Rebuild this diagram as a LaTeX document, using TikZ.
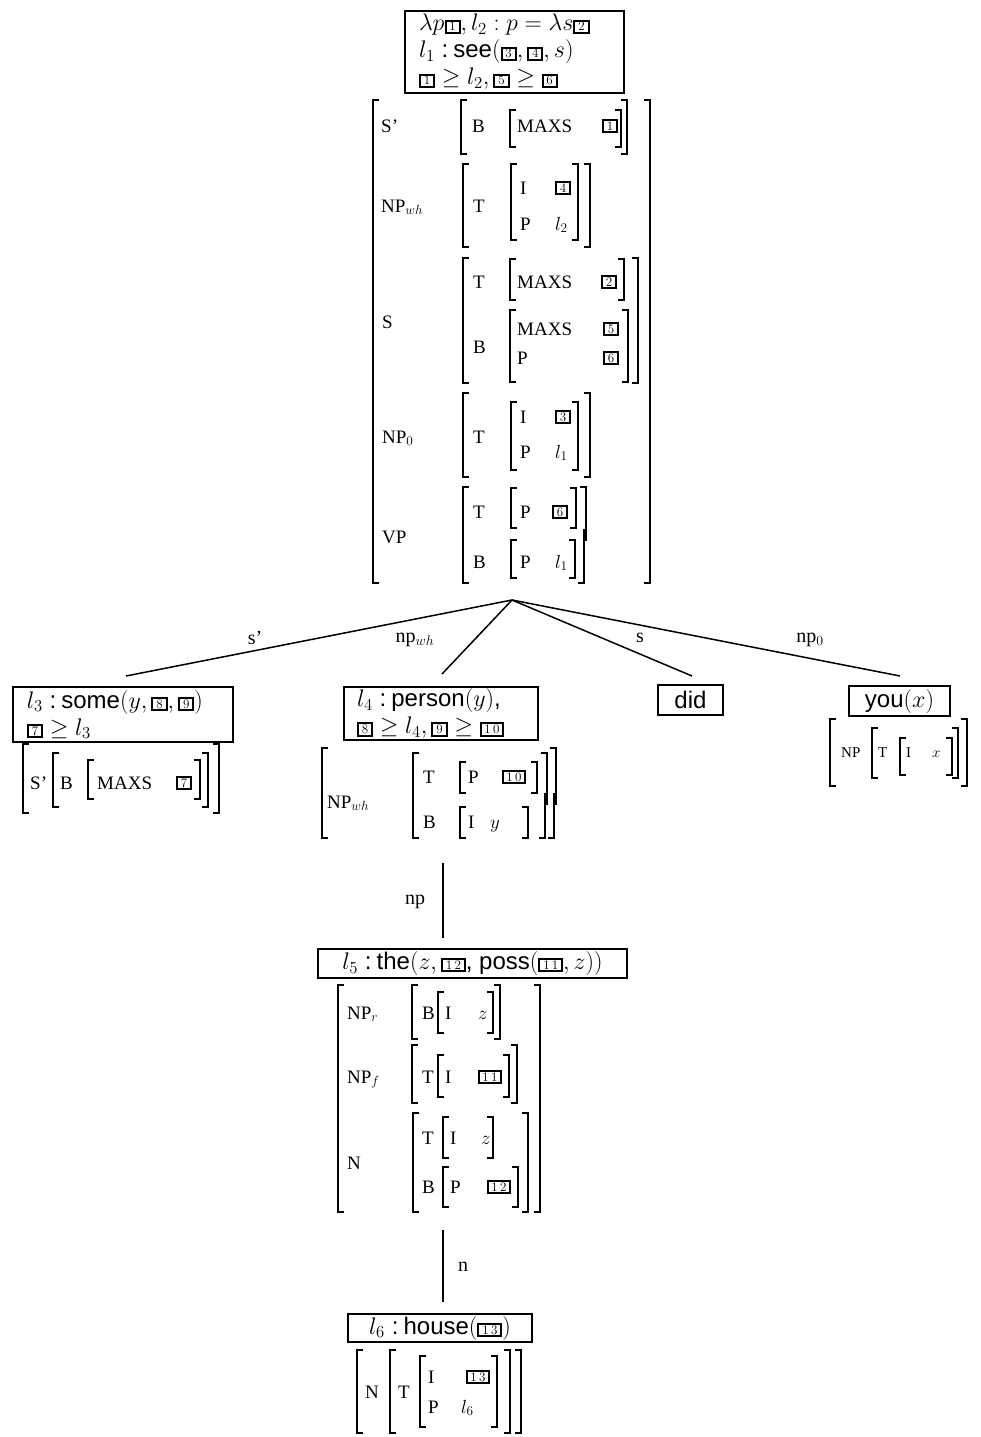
\RequirePackage{fix-cm}
\documentclass[tikz,border=0pt]{standalone}
\usepackage[no-math]{fontspec}
\setmainfont{Liberation Serif}
\newfontfamily\hv{Liberation Sans}
\newcounter{nn}
\newcommand\lcolon{\kern7pt:\kern5pt}
\newcommand\bx[1]{{\setlength\fboxsep{0.9pt}\setlength\fboxrule{2pt}\fbox{\fontsize{13}{13}\selectfont\rule{0pt}{8.4pt}\kern2pt$#1$\kern2pt}}}
\newcommand\bxx[2]{{\setlength\fboxsep{0.9pt}\setlength\fboxrule{2pt}\fbox{\fontsize{13}{13}\selectfont\rule{0pt}{8.4pt}\kern2pt$#1$\kern2.3pt$#2$\kern2pt}}}
\newcommand\avt[3]{\stepcounter{nn}\node[av] (t\thenn) at (#1,{#2+6}) {#3};}
\newcommand\avs[3]{\stepcounter{nn}\node[av, font=\fontsize{15}{17}\selectfont] (t\thenn) at (#1,{#2+5}) {#3};}
\newcommand\avb[3]{\stepcounter{nn}\node[bxn] (t\thenn) at (#1,#2) {\bx{#3}};}
\newcommand\avbb[3]{\stepcounter{nn}\node[bxn] (t\thenn) at (#1,#2) {\bxx#3};}
\newcommand\lbr[3]{\draw[brk] ({#1+6},#2) -| (#1,#3) -- ({#1+6},#3);}
\newcommand\rbr[3]{\draw[brk] ({#1-6},#2) -| (#1,#3) -- ({#1-6},#3);}
\newcommand\avmb[4]{\lbr{#1}{#3}{#4}\rbr{#2}{#3}{#4}}
\newcommand\rkink[4]{\draw[brk] ({#1-6},#2) -| (#1,{#4+6}); \draw[brk] ({#1-2},{#4-6}) -- ({#1-2},#3) -- ({#1-8},#3);}
\tikzset{
  brk/.style={line width=1.5pt},
  av/.style={anchor=base west, inner sep=0pt, font=\fontsize{19}{21}\selectfont},
  bxn/.style={inner sep=0pt},
  lab/.style={draw, line width=2pt, inner sep=0pt, anchor=north west, font=\hv\fontsize{24}{27}\selectfont},
  edge/.style={line width=1.5pt},
  elab/.style={inner sep=0pt, font=\fontsize{20}{22}\selectfont},
}
\begin{document}
\begin{tikzpicture}[x=1pt,y=-1pt]
\useasboundingbox (0,0) rectangle (981,1437);
% ---------- root ----------
\node[lab, minimum height=82pt, text width=191pt, inner xsep=14pt, align=left] (top) at (404,10)
  {$\lambda p\bx1, l_2 : p = \lambda s\bx2$\\ $l_1$\lcolon see$(\bx3, \bx4, s)$\\ $\bx1 \geq l_2, \bx5 \geq \bx6$};
\avmb{373}{650}{100}{583}
\avmb{461}{627}{100}{154}
\avmb{510}{621}{110}{147}
\avmb{463}{590}{164}{247}
\avmb{511}{578}{164}{240}
\avmb{463}{638}{258}{383}
\avmb{510}{624}{259}{300}
\avmb{510}{628}{310}{382}
\avmb{463}{590}{393}{477}
\avmb{511}{578}{402}{470}
\lbr{463}{487}{583}\rkink{586}{487}{583}{535}
\avmb{511}{576}{488}{528}
\avmb{511}{575}{540}{578}
\avt{381}{126}{S'}\avt{472}{126}{B}\avt{517}{126}{MAXS}\avb{610}{126}{1}
\avt{381}{206}{NP$_{wh}$}\avt{473}{206}{T}\avt{520}{188}{I}\avb{563}{188}{4}\avt{520}{224}{P}\avt{555}{224}{$l_2$}
\avt{382}{322}{S}\avt{473}{282}{T}\avt{517}{282}{MAXS}\avb{609}{282}{2}\avt{473}{347}{B}\avt{517}{329}{MAXS}\avb{611}{329}{5}\avt{517}{358}{P}\avb{611}{358}{6}
\avt{382}{437}{NP$_0$}\avt{473}{437}{T}\avt{520}{417}{I}\avb{563}{417}{3}\avt{520}{452}{P}\avt{555}{452}{$l_1$}
\avt{382}{537}{VP}\avt{473}{512}{T}\avt{520}{512}{P}\avb{560}{512}{6}\avt{473}{562}{B}\avt{520}{562}{P}\avt{555}{562}{$l_1$}
% ---------- tree edges ----------
\coordinate (root) at (512,600);
\coordinate (e1) at (126,676);
\coordinate (e2) at (442,674);
\coordinate (e3) at (692,676);
\coordinate (e4) at (900,676);
\draw[edge] (root) -- (e1);
\draw[edge] (root) -- (e2);
\draw[edge] (root) -- (e3);
\draw[edge] (root) -- (e4);
\node[elab] (l1) at (255,638) {s'};
\node[elab] (l2) at (415,640) {np$_{wh}$};
\node[elab] (l3) at (640,638) {s};
\node[elab] (l4) at (810,640) {np$_0$};
% ---------- child 1 ----------
\node[lab, minimum height=55pt, text width=192pt, inner xsep=14pt, align=left] (c1) at (12,686)
  {$l_3$\lcolon some$(y, \bx8, \bx9)$\\ $\bx7 \geq l_3$};
\avmb{23}{219}{744}{813}\avmb{53}{208}{753}{807}\avmb{88}{200}{760}{799}
\avt{30}{783}{S'}\avt{60}{783}{B}\avt{97}{783}{MAXS}\avb{184}{783}{7}
% ---------- child 2 ----------
\node[lab, minimum height=53pt, text width=168pt, inner xsep=13pt, align=left] (c2) at (343,686)
  {$l_4$\lcolon person$(y)$,\\ $\bx8 \geq l_4, \bx9 \geq \bxx10$};
\lbr{322}{748}{838}\rkink{556}{748}{838}{799}
\lbr{413}{753}{838}\rkink{547}{753}{838}{799}
\avmb{460}{537}{762}{793}\avmb{460}{528}{807}{838}
\avt{327}{802}{NP$_{wh}$}\avt{423}{777}{T}\avt{468}{777}{P}\avbb{514}{777}{10}
\avt{423}{822}{B}\avt{468}{822}{I}\avt{490}{822}{$y$}
% ---------- child 3 ----------
\node[lab, minimum width=65pt, minimum height=30pt] (c3) at (657,684) {did};
% ---------- child 4 ----------
\node[lab, minimum width=101pt, minimum height=30pt] (c4) at (848,685) {you$(x)$};
\avmb{830}{967}{719}{786}\avmb{872}{958}{728}{778}\avmb{900}{952}{738}{775}
\avs{841}{752}{NP}\avs{878}{752}{T}\avs{906}{752}{I}\avs{932}{752}{$x$}
% ---------- np edge ----------
\coordinate (np1) at (443,863);
\coordinate (np2) at (443,938);
\draw[edge] (np1) -- (np2);
\node[elab] (l5) at (415,902) {np};
% ---------- l5 ----------
\node[lab, minimum width=309pt, minimum height=29pt] (c5) at (317,948)
  {$l_5$\lcolon the$(z, \bxx12$, poss$(\bxx11, z))$};
\avmb{338}{540}{985}{1212}
\avmb{412}{500}{985}{1039}\avmb{438}{493}{992}{1033}
\avmb{412}{517}{1045}{1103}\avmb{438}{509}{1055}{1097}
\avmb{413}{528}{1113}{1212}\avmb{443}{493}{1117}{1158}\avmb{443}{518}{1167}{1207}
\avt{347}{1013}{NP$_r$}\avt{422}{1013}{B}\avt{445}{1013}{I}\avt{478}{1013}{$z$}
\avt{347}{1077}{NP$_f$}\avt{422}{1077}{T}\avt{445}{1077}{I}\avbb{490}{1077}{11}
\avt{347}{1163}{N}\avt{422}{1138}{T}\avt{450}{1138}{I}\avt{481}{1138}{$z$}
\avt{422}{1187}{B}\avt{450}{1187}{P}\avbb{499}{1187}{12}
% ---------- n edge ----------
\coordinate (n1) at (443,1230);
\coordinate (n2) at (443,1302);
\draw[edge] (n1) -- (n2);
\node[elab] (l6) at (463,1267) {n};
% ---------- l6 ----------
\node[lab, minimum width=184pt, minimum height=28pt] (c6) at (347,1313) {$l_6$\lcolon house$(\bxx13)$};
\avmb{357}{521}{1350}{1433}\avmb{390}{510}{1350}{1433}\avmb{420}{497}{1356}{1427}
\avt{365}{1392}{N}\avt{398}{1392}{T}\avt{428}{1377}{I}\avbb{478}{1377}{13}\avt{428}{1407}{P}\avt{461}{1407}{$l_6$}
\end{tikzpicture}
\end{document}
